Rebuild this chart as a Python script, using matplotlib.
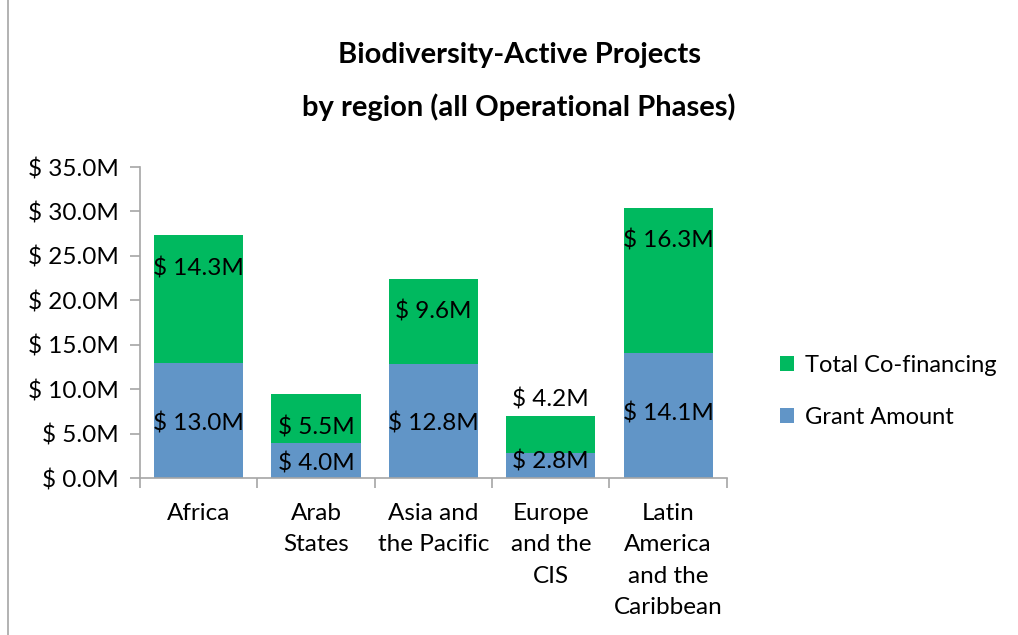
import matplotlib.pyplot as plt
import numpy as np

regions = ["Africa", "Arab\nStates", "Asia and\nthe Pacific", "Europe\nand the\nCIS",
           "Latin\nAmerica\nand the\nCaribbean"]
grant = [13.0, 4.0, 12.8, 2.8, 14.1]
cofin = [14.3, 5.5, 9.6, 4.2, 16.3]
# label heights (in $M) as placed in the original chart
grant_label_y = [6.2, 1.7, 6.2, 1.9, 7.3]
cofin_label_y = [23.6, 5.7, 18.8, 8.8, 26.7]

plt.rcParams['font.family'] = ['Lato', 'DejaVu Sans']
green = "#00b95f"
blue = "#6195c7"
grey = "#a6a6a6"
fs = 17.5

fig = plt.figure(figsize=(10.18, 6.35), dpi=100)
ax = fig.add_axes([0.1375, 0.247, 0.5765, 0.49])

x = np.arange(len(regions))
ax.bar(x, grant, width=0.76, color=blue, label="Grant Amount")
ax.bar(x, cofin, width=0.76, bottom=grant, color=green, label="Total Co-financing")

for i in range(len(regions)):
    ax.text(x[i], grant_label_y[i], "$ %.1fM" % grant[i], ha="center", va="center", fontsize=fs)
    ax.text(x[i], cofin_label_y[i], "$ %.1fM" % cofin[i], ha="center", va="center", fontsize=fs)

ax.set_xlim(-0.5, len(regions) - 0.5)
ax.set_ylim(0, 35)
ax.set_yticks(np.arange(0, 36, 5))
ax.set_yticklabels(["$ %.1fM" % v for v in np.arange(0, 36, 5)], fontsize=fs)
ax.set_xticks(x)
ax.set_xticklabels(regions, fontsize=fs, linespacing=1.6, va="top")
ax.set_xticks(np.arange(-0.5, len(regions)), minor=True)
ax.tick_params(axis="x", which="major", length=0, pad=18)
ax.tick_params(axis="x", which="minor", length=7, color=grey, width=1.2, direction="out")
ax.tick_params(axis="y", length=7, color=grey, width=1.2, direction="out", pad=8)

for s in ["top", "right"]:
    ax.spines[s].set_visible(False)
for s in ["left", "bottom"]:
    ax.spines[s].set_color(grey)
    ax.spines[s].set_linewidth(1.2)

fig.text(0.51, 0.913, "Biodiversity-Active Projects", ha="center", va="center",
         fontsize=21, fontweight="bold")
fig.text(0.51, 0.831, "by region (all Operational Phases)", ha="center", va="center",
         fontsize=21, fontweight="bold")

handles, labels = ax.get_legend_handles_labels()
fig.legend(handles[::-1], labels[::-1], loc="center left", bbox_to_anchor=(0.766, 0.384),
           frameon=False, fontsize=17, handlelength=0.6, handleheight=0.6,
           handletextpad=0.45, labelspacing=1.3, borderpad=0, borderaxespad=0)

# chart frame
fig.patches.append(plt.Rectangle((0.008, -0.01), 1.0, 1.02, transform=fig.transFigure,
                                 fill=False, edgecolor=grey, linewidth=1.2))

plt.savefig("out.png", dpi=100)
